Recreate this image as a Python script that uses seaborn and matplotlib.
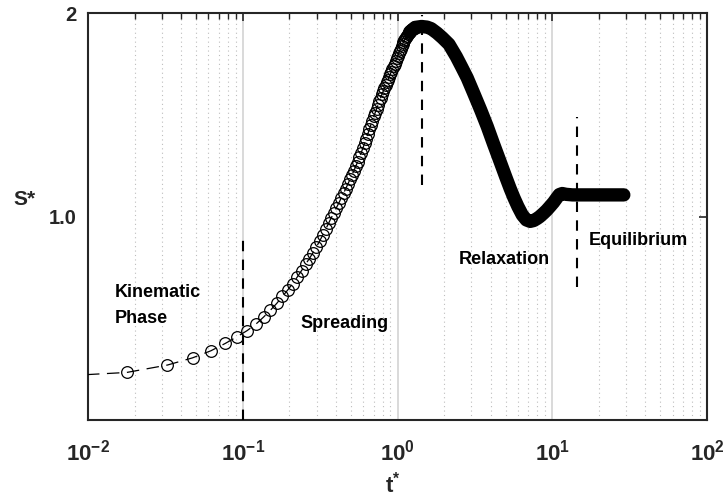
import matplotlib
matplotlib.use("Agg")
import matplotlib.pyplot as plt
from matplotlib.ticker import FixedLocator, FixedFormatter, NullLocator, NullFormatter, LogLocator
import seaborn as sns

# ---------------- data ----------------
# open-circle samples (early / spreading part)
circle_t = [0.0030, 0.0178, 0.0326, 0.0474, 0.0622, 0.0770, 0.0918, 0.1066, 0.1214,
            0.1362, 0.1510, 0.1658, 0.1806, 0.1954, 0.2102, 0.2250, 0.2398, 0.2546,
            0.2694, 0.2842, 0.2990, 0.3138, 0.3286, 0.3434, 0.3582, 0.3730,
            0.388, 0.403, 0.418, 0.433, 0.448, 0.463, 0.478, 0.493, 0.508, 0.523,
            0.538, 0.553, 0.568, 0.583, 0.598, 0.613, 0.628, 0.643, 0.658, 0.673,
            0.688, 0.703, 0.718, 0.733, 0.748, 0.763, 0.778, 0.793, 0.808, 0.823,
            0.838, 0.853, 0.868, 0.883, 0.898, 0.913, 0.928, 0.943, 0.958, 0.973,
            0.988, 1.003, 1.018, 1.033, 1.048, 1.063, 1.078, 1.093, 1.108, 1.123,
            1.138, 1.153, 1.168, 1.183, 1.198, 1.213, 1.228, 1.243, 1.258, 1.273,
            1.288, 1.303]
circle_s = [0.575, 0.588, 0.603, 0.618, 0.633, 0.649, 0.664, 0.678, 0.693,
            0.710, 0.727, 0.744, 0.762, 0.779, 0.796, 0.814, 0.832, 0.850,
            0.867, 0.884, 0.902, 0.920, 0.939, 0.958, 0.977, 0.996,
            1.012, 1.031, 1.048, 1.066, 1.083, 1.100, 1.118, 1.135, 1.153, 1.170,
            1.188, 1.206, 1.224, 1.244, 1.264, 1.284, 1.305, 1.326, 1.347, 1.368,
            1.387, 1.407, 1.426, 1.445, 1.463, 1.482, 1.500, 1.517, 1.533, 1.549,
            1.565, 1.580, 1.595, 1.610, 1.625, 1.640, 1.655, 1.670, 1.685, 1.700,
            1.715, 1.730, 1.745, 1.759, 1.773, 1.787, 1.800, 1.812, 1.824, 1.835,
            1.845, 1.854, 1.862, 1.870, 1.877, 1.883, 1.889, 1.894, 1.898, 1.901,
            1.904, 1.906]

# densely sampled part (markers merge into a solid band)
band_t = [1.20, 1.30, 1.43, 1.55, 1.65, 1.80, 1.95, 2.15, 2.40, 2.60, 2.82, 3.10,
          3.45, 3.80, 4.16, 4.55, 5.00, 5.35, 5.66, 6.00, 6.40, 6.80, 7.20, 7.60,
          8.00, 8.30, 8.80, 9.20, 9.70, 10.2, 10.7, 11.1, 11.6, 12.3, 13.5, 16.0,
          20.0, 25.0, 29.0]
band_s = [1.877, 1.906, 1.912, 1.908, 1.898, 1.870, 1.840, 1.800, 1.725, 1.665, 1.605, 1.525,
          1.438, 1.360, 1.284, 1.215, 1.146, 1.100, 1.066, 1.035, 1.006, 0.989, 0.984, 0.987,
          0.994, 1.000, 1.012, 1.022, 1.036, 1.050, 1.066, 1.078, 1.082, 1.079, 1.077, 1.077,
          1.077, 1.077, 1.077]

# phase separators
sep_t = [0.1, 1.43, 14.4]
sep_lo = [0.5, 1.114, 0.788]
sep_hi = [0.924, 1.988, 1.406]

# phase labels
label_text = ["Kinematic", "Phase", "Spreading", "Relaxation", "Equilibrium"]
label_t = [0.0149, 0.0149, 0.2344, 2.47, 17.1]
label_s = [0.761, 0.695, 0.684, 0.852, 0.908]

xtick_vals = [1e-2, 1e-1, 1e0, 1e1, 1e2]
xtick_labels = [r"$\mathbf{10^{-2}}$", r"$\mathbf{10^{-1}}$", r"$\mathbf{10^{0}}$",
                r"$\mathbf{10^{1}}$", r"$\mathbf{10^{2}}$"]
ytick_vals = [1.0, 2.0]
ytick_labels = ["1.0", "2"]

# ---------------- styling ----------------
sns.set_theme(style="white")
plt.rcParams["font.family"] = ["Liberation Sans", "DejaVu Sans"]
plt.rcParams["mathtext.fontset"] = "custom"
plt.rcParams["mathtext.rm"] = "Liberation Sans"
plt.rcParams["mathtext.bf"] = "Liberation Sans:bold"
plt.rcParams["mathtext.it"] = "Liberation Sans:italic"

dark = "#262626"
fig = plt.figure(figsize=(7.23, 5.0), dpi=100)
ax = fig.add_axes([88 / 723, 1 - 420 / 500, (707 - 88) / 723, (420 - 13.3) / 500])
ax.set_xscale("log")
ax.set_yscale("log")
ax.set_xlim(1e-2, 1e2)
ax.set_ylim(0.5, 2.0)
ax.set_axisbelow(True)

# grid (x only)
ax.xaxis.set_minor_locator(LogLocator(base=10, subs=[2, 3, 4, 5, 6, 7, 8, 9], numticks=20))
ax.xaxis.set_minor_formatter(NullFormatter())
ax.grid(False)
ax.xaxis.grid(True, which="major", color="#d9d9d9", linewidth=1.4, linestyle="-")
ax.xaxis.grid(True, which="minor", color="#bdbdbd", linewidth=0.8, linestyle=(0, (1, 3)))

# band (overlapping markers -> thick stroke)
sns.lineplot(x=band_t, y=band_s, ax=ax, color="black", linewidth=9.6,
             solid_capstyle="round", solid_joinstyle="round",
             estimator=None, sort=False, zorder=3)
# open circles joined by a thin dashed line
sns.lineplot(x=circle_t, y=circle_s, ax=ax, color="black", linewidth=0.9,
             linestyle=(0, (10, 6)), marker="o", markersize=8.4,
             markerfacecolor="none", markeredgecolor="black", markeredgewidth=0.9,
             estimator=None, sort=False, zorder=4)

# separators
ax.vlines(sep_t, sep_lo, sep_hi, colors="black", linewidth=1.5,
          linestyles=(0, (5, 4)), zorder=5)

for txt, tx, sy in zip(label_text, label_t, label_s):
    ax.text(tx, sy, txt, ha="left", va="baseline", fontsize=13,
            fontweight="bold", color="black", zorder=6)

# ticks
ax.xaxis.set_major_locator(FixedLocator(xtick_vals))
ax.xaxis.set_major_formatter(FixedFormatter(xtick_labels))
ax.yaxis.set_major_locator(FixedLocator(ytick_vals))
ax.yaxis.set_major_formatter(FixedFormatter(ytick_labels))
ax.yaxis.set_minor_locator(NullLocator())
ax.tick_params(axis="both", which="both", direction="in", top=True, right=True,
               color=dark, labelcolor=dark)
ax.tick_params(axis="x", which="major", length=6, width=1.2, pad=14, labelsize=16)
ax.tick_params(axis="x", which="minor", length=4, width=1.0)
ax.tick_params(axis="y", which="major", length=6, width=1.2, pad=8, labelsize=14.5)
for lab in ax.get_yticklabels():
    lab.set_fontweight("bold")

for sp in ax.spines.values():
    sp.set_visible(True)
    sp.set_color(dark)
    sp.set_linewidth(1.5)

ax.set_ylabel("S*", rotation=0, fontsize=15, fontweight="bold", color=dark,
              ha="center", va="center")
ax.yaxis.set_label_coords(-0.102, 0.541)
ax.set_xlabel(r"$\mathbf{t^{*}}$", fontsize=16, color=dark, va="top")
ax.xaxis.set_label_coords(0.493, -0.126)

fig.savefig("out.png", dpi=100)
